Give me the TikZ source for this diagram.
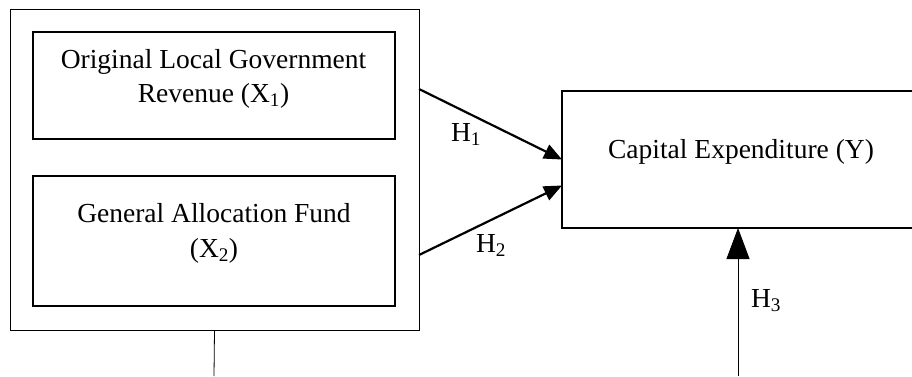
\documentclass[tikz,border=0pt]{standalone}
\usepackage{fontspec}
\setmainfont{Liberation Serif}
\usetikzlibrary{arrows.meta}
\begin{document}
\begin{tikzpicture}[x=1pt,y=-1pt,
  thinbox/.style={draw, line width=0.8pt, inner sep=0pt, outer sep=0pt},
  thickbox/.style={draw, line width=2.2pt, inner sep=0pt, outer sep=0pt},
  lbl/.style={font=\fontsize{27.5}{34}\selectfont, inner sep=0pt, anchor=base},
  hyparrow/.style={line width=2.2pt, -{Triangle[length=18pt,width=15pt]}},
  thinarrow/.style={line width=0.9pt, -{Triangle[length=31pt,width=23pt]}},
  thinline/.style={line width=0.8pt}
]
\useasboundingbox (0,0) rectangle (912,376);
\clip (0,0) rectangle (912,376);
% boxes
\node[thinbox, minimum width=409pt, minimum height=321pt] (outer) at (214.5,169.5) {};
\node[thickbox, minimum width=362pt, minimum height=107pt] (x1) at (214,85.5) {};
\node[thickbox, minimum width=362pt, minimum height=130pt] (x2) at (214,241) {};
\node[thickbox, minimum width=378pt, minimum height=137pt] (y) at (751,159.5) {};
% texts
\node[lbl] (t1a) at (213.5,68) {Original Local Government};
\node[lbl] (t1b) at (213.5,102) {Revenue (X\textsubscript{1})};
\node[lbl] (t2a) at (214,222) {General Allocation Fund};
\node[lbl] (t2b) at (214,257) {(X\textsubscript{2})};
\node[lbl] (ty) at (741,158) {Capital Expenditure (Y)};
\node[lbl] (h1) at (466,141) {H\textsubscript{1}};
\node[lbl] (h2) at (491,252) {H\textsubscript{2}};
\node[lbl] (h3) at (766,307) {H\textsubscript{3}};
% connectors
\draw[hyparrow] ([yshift=80.5pt]outer.east) -- (y.west);
\draw[hyparrow] ([yshift=-85.5pt]outer.east) -- ([yshift=-26pt]y.west);
\coordinate (b1) at (214,376);
\coordinate (b2) at (738,376);
\draw[thinline] (outer.south) -- (b1);
\draw[thinarrow] (b2) -- (b2 |- y.south);
\end{tikzpicture}
\end{document}
